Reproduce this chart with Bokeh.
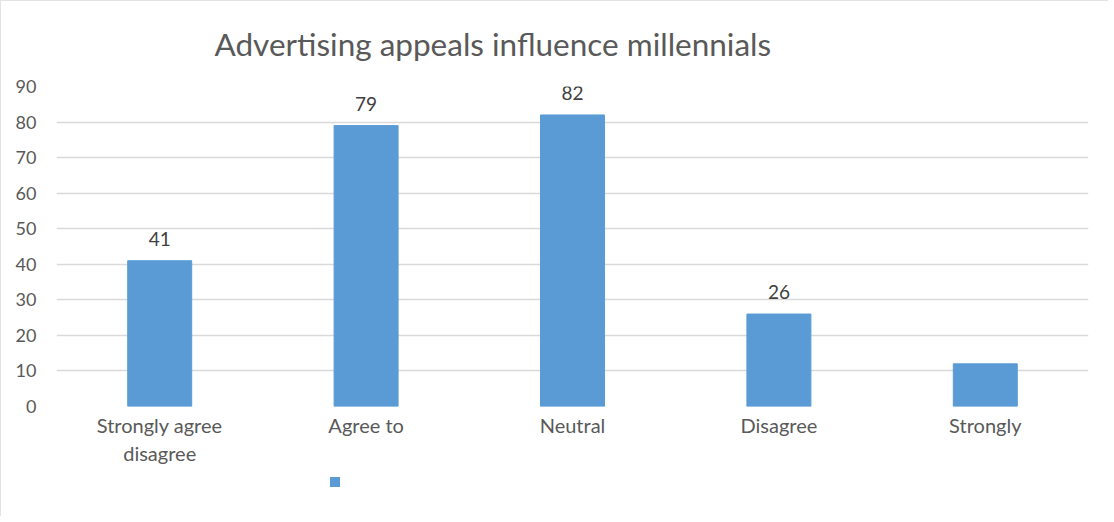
from bokeh.plotting import figure
from bokeh.models import Range1d, FactorRange, ColumnDataSource, Div
from bokeh.layouts import column
from bokeh.core.properties import value
from bokeh.embed import file_html
from bokeh.resources import INLINE

categories = ["Strongly agree\ndisagree", "Agree to", "Neutral", "Disagree", "Strongly"]
counts = [41, 79, 82, 26, 12]
value_labels = ["41", "79", "82", "26", ""]
title_text = "Advertising appeals influence millennials"

FONT = "Lato"
TEXT = "#595959"
BAR = "#5B9BD5"
GRID = "#D9D9D9"

src = ColumnDataSource(dict(cat=categories, v=counts, lab=value_labels))

p = figure(width=1097, height=475, x_range=FactorRange(*categories), y_range=Range1d(0, 90),
           output_backend="svg", toolbar_location=None,
           min_border_left=55, min_border_right=10, min_border_top=85, min_border_bottom=70)
p.outline_line_color = None
p.background_fill_color = "white"
p.border_fill_color = "white"

p.title.text = title_text
p.title.text_font = FONT
p.title.text_font_size = "31.5px"
p.title.text_font_style = "normal"
p.title.text_color = TEXT
p.title.text_line_height = 0.8
p.title.align = "left"
p.title.offset = 158
p.title.standoff = 44
p.title.vertical_align = "top"

bars = p.vbar(x="cat", top="v", width=0.31, source=src, fill_color=BAR, line_color=BAR)
p.text(x="cat", y="v", text="lab", source=src, text_align="center", text_baseline="bottom",
       y_offset=-15, text_font=value(FONT), text_font_size="19px", text_color="#404040")

p.xgrid.grid_line_color = None
p.ygrid.grid_line_color = GRID
p.ygrid.grid_line_width = 1.5
p.yaxis.ticker = list(range(0, 91, 10))
p.yaxis.axis_line_color = None
p.yaxis.major_tick_line_color = None
p.yaxis.minor_tick_line_color = None
p.yaxis.major_label_standoff = 14
p.yaxis.major_label_text_font = FONT
p.yaxis.major_label_text_font_size = "18px"
p.yaxis.major_label_text_color = TEXT

p.xaxis.axis_line_color = None
p.xaxis.major_tick_line_color = None
p.xaxis.major_label_standoff = 0
p.xaxis.major_label_text_font = FONT
p.xaxis.major_label_text_font_size = "20px"
p.xaxis.major_label_text_color = TEXT

legend_div = Div(text='<div style="width:10px;height:10px;background:%s;margin-left:324px;position:relative;top:-6px"></div>' % BAR,
                 width=1097, height=30)

layout = column(p, legend_div, spacing=0,
                styles={"border-left": "1px solid #E3E3E3", "border-top": "1px solid #E3E3E3",
                        "background": "white"})

open("out.html", "w").write(file_html(layout, INLINE))
